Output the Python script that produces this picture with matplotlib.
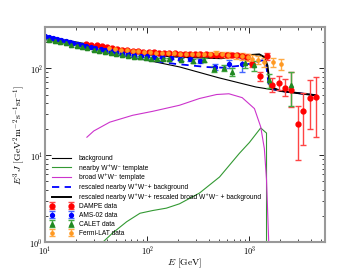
import numpy as np
import matplotlib
matplotlib.use('Agg')
import matplotlib.pyplot as plt
from matplotlib.ticker import FuncFormatter

plt.rcParams['mathtext.fontset'] = 'cm'

# model curves
bg_E = [10, 20, 43, 100, 207, 500, 1160, 2000, 4450]
bg_J = [215, 183, 148, 124, 104, 78, 61, 55, 49]

near_E = [30, 37, 46, 63, 85, 113, 154, 207, 325, 510, 798, 1000, 1290, 1450, 1470, 1471]
near_J = [0.78, 1.0, 1.27, 1.71, 2.14, 2.3, 2.45, 2.75, 3.66, 5.6, 10.5, 14, 20.6, 18.2, 18.0, 0.01]

broad_E = [25.7, 30, 43, 72, 113, 207, 325, 477, 630, 850, 1120, 1290, 1400, 1470, 1545, 1550]
broad_J = [16.1, 19, 24, 28.8, 32, 37.6, 45, 50, 51, 46, 34.4, 21.2, 11.9, 5.2, 1.0, 0.01]

resc_near_E = [10, 43, 90, 185, 390, 546, 850, 1160, 1340, 1450, 1530, 1560, 2000, 4450]
resc_near_J = [222, 152, 127, 113, 103.5, 102, 108, 118, 124, 118, 70, 60, 55, 49]

resc_all_E = [10, 20, 50, 100, 200, 530, 890, 1250, 1400, 1500, 1590, 2000, 4450]
resc_all_J = [232, 200, 162, 145, 136, 131, 141, 145, 135, 108, 62, 55, 49]

# data
dampe_E = [25, 28, 32, 36, 40, 45, 51, 57, 64, 72, 81, 91, 103, 116, 130, 146, 164, 185,
           208, 234, 263, 296, 332, 374, 420, 473, 531, 598, 672, 756, 850, 955, 1070,
           1280, 1500, 1660, 1950, 2230, 2570, 2960, 3370, 3890, 4450]
dampe_J = [192, 188, 184, 180, 176, 172, 168, 165, 162, 160, 158, 156, 154, 153, 152, 151, 150, 149,
           148, 147, 146, 146, 145, 145, 144, 144, 143, 143, 142, 141, 139, 136, 113,
           81, 138, 64, 68, 60, 57, 22.7, 32, 46, 47]
dampe_lo = [4, 4, 4, 4, 4, 4, 4, 4, 4, 4, 4, 4, 4, 4, 4, 4, 4, 4,
            4, 4, 4, 5, 5, 5, 5, 5, 6, 6, 7, 7, 8, 9, 10,
            9, 12, 11, 12, 12, 21, 14, 19, 26, 31]
dampe_hi = [4, 4, 4, 4, 4, 4, 4, 4, 4, 4, 4, 4, 4, 4, 4, 4, 4, 4,
            4, 4, 4, 5, 5, 5, 5, 5, 6, 6, 7, 7, 8, 9, 10,
            10, 14, 13, 14, 15, 34, 14, 20, 27, 32]

ams_E = [10, 11, 12, 13, 14.5, 16, 17.5, 19, 21, 23, 25, 28, 31, 35, 39, 44, 50, 57, 65,
         75, 87, 100, 117, 140, 170, 210, 260, 325, 457, 638, 850]
ams_J = [235, 230, 225, 220, 214, 208, 203, 198, 192, 187, 182, 177, 172, 167, 162, 158, 154,
         150, 146, 143, 140, 138, 136, 134, 132, 130, 127, 122, 104, 113, 112]
ams_err = [3, 3, 3, 3, 3, 3, 3, 3, 3, 3, 3, 3, 3, 3, 3, 3, 3, 3, 3,
           3, 3, 3, 3, 3, 4, 4, 5, 6, 8, 12, 20]

calet_E = [11, 12.5, 14, 16, 18, 20.5, 23, 26, 30, 34, 39, 44, 50, 57, 65, 74, 85, 97, 110,
           126, 144, 165, 215, 280, 357, 450, 558, 683, 908, 1120, 1570, 2540]
calet_J = [213, 207, 201, 194, 188, 182, 176, 170, 164, 159, 154, 150, 146, 142, 139, 136, 134,
           132, 130, 129, 128, 127, 126, 122, 126, 99, 102, 91, 116, 108, 73, 64]
calet_err = [4, 4, 4, 4, 4, 4, 4, 4, 4, 4, 4, 4, 4, 4, 4, 4, 4, 4, 4,
             4, 4, 4, 5, 6, 7, 8, 8, 10, 15, 14, 14, 27]

fermi_E = [42, 48, 55, 63, 72, 82, 94, 107, 122, 140, 160, 183, 209, 239, 273, 312, 357, 408,
           473, 540, 620, 745, 850, 960, 1070, 1200, 1400, 1710, 2050]
fermi_J = [172, 168, 165, 162, 159, 157, 155, 153, 152, 151, 150, 149, 148, 147, 146, 146, 145,
           146, 150, 146, 143, 141, 138, 135, 129, 126, 118, 118, 113]
fermi_err = [5, 5, 5, 5, 5, 5, 5, 5, 5, 5, 5, 5, 6, 6, 6, 7, 7, 8,
             8, 9, 10, 11, 12, 12, 13, 14, 14, 15, 16]

fig = plt.figure(figsize=(3.6, 2.7), dpi=100)
ax = fig.add_axes([0.125, 0.104, 0.778, 0.796])

ax.plot(bg_E, bg_J, color='black', lw=0.8, label='background')
ax.plot(near_E, near_J, color='#339933', lw=0.8, label='nearby W⁺W⁻ template')
ax.plot(broad_E, broad_J, color='#cc33cc', lw=0.8, label='broad W⁺W⁻ template')
ax.plot(resc_near_E, resc_near_J, color='blue', lw=1.3, ls='--', dashes=(4, 3),
        label='rescaled nearby W⁺W⁻+ background')
ax.plot(resc_all_E, resc_all_J, color='black', lw=1.4,
        label='rescaled nearby W⁺W⁻+ rescaled broad W⁺W⁻ + background')

eb = dict(ls='none', capsize=2.2, elinewidth=1.0, capthick=1.0)
ax.errorbar(dampe_E, dampe_J, yerr=[dampe_lo, dampe_hi], fmt='o', color='red',
            ecolor='#ff4444', ms=3.5, label='DAMPE data', **eb)
ax.errorbar(ams_E, ams_J, yerr=ams_err, fmt='o', color='blue', ecolor='#4466ff',
            ms=2.8, label='AMS-02 data', **eb)
ax.errorbar(calet_E, calet_J, yerr=calet_err, fmt='^', color='#228822', ecolor='#44aa44',
            ms=3, label='CALET data', **eb)
ax.errorbar(fermi_E, fermi_J, yerr=fermi_err, fmt='o', color='#ff9922', ecolor='#ffaa44',
            ms=2.3, label='Fermi-LAT data', **eb)

ax.set_xscale('log')
ax.set_yscale('log')
ax.set_xlim(10, 5500)
ax.set_ylim(1, 300)

fmt = FuncFormatter(lambda v, p: r'$10^{%d}$' % round(np.log10(v)))
ax.xaxis.set_major_formatter(fmt)
ax.yaxis.set_major_formatter(fmt)
ax.tick_params(which='both', direction='in', top=True, right=True, labelsize=6, pad=1.5)
ax.tick_params(which='major', length=4, width=0.6)
ax.tick_params(which='minor', length=2, width=0.5)
for s in ax.spines.values():
    s.set_color('#999999')
    s.set_linewidth(1.5)

ax.set_xlabel(r'$E\ [\mathrm{GeV}]$', fontsize=7, labelpad=0)
ax.set_ylabel(r'$E^3\,J\ [\mathrm{GeV}^2\mathrm{m}^{-2}\mathrm{s}^{-1}\mathrm{sr}^{-1}]$', fontsize=7, labelpad=2)

ax.legend(loc='lower left', bbox_to_anchor=(0.0, 0.0), frameon=False,
          prop={'family': ['Liberation Sans', 'DejaVu Sans'], 'size': 4.8},
          numpoints=2, handlelength=3.4, handletextpad=0.95, labelspacing=0.3,
          borderaxespad=0.35)

fig.savefig('out.png', dpi=100)
